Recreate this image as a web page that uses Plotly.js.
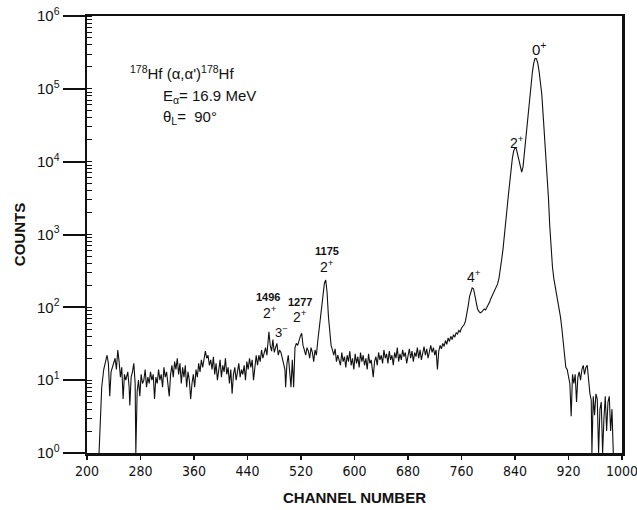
<!DOCTYPE html>
<html>
<head>
<meta charset="utf-8">
<script src="https://cdn.plot.ly/plotly-3.0.1.min.js"></script>
<style>html,body{margin:0;padding:0;background:#fff;}#chart{width:637px;height:510px;}</style>
</head>
<body>
<div id="chart"></div>
<script>
// Channel numbers (x) and counts (y)
const channel = [
218,220,222,225,228,230,232,234,236,239,242,244,246,248,250,252,254,256,258,261,263,264,266,268,270,272,273,275,277,279,
281,283,285,287,289,291,293,295,297,299,301,303,305,307,309,311,313,315,317,319,321,323,325,327,329,331,333,335,337,339,
341,343,345,347,349,351,353,355,357,359,361,363,365,367,369,371,373,375,377,379,381,383,385,387,389,391,393,395,397,399,
401,403,405,407,409,411,413,415,417,419,421,423,425,427,429,431,433,435,437,439,441,443,445,447,449,451,453,455,457,459,
461,463,465,467,469,471,472,474,476,478,480,482,484,486,488,490,492,494,496,497,499,501,503,505,507,509,511,513,515,517,
519,521,523,525,527,529,531,533,535,537,539,541,543,545,547,549,551,553,555,557,559,561,563,565,567,569,571,573,575,577,
579,581,583,585,587,589,591,593,595,597,599,601,603,605,607,609,611,613,615,617,619,621,623,625,627,628,630,632,634,636,
638,640,642,644,646,648,650,652,654,656,658,660,662,664,666,668,670,672,674,676,678,680,682,684,686,688,690,692,694,696,
698,700,702,704,706,708,710,712,714,716,718,720,722,724,726,728,730,732,734,736,738,740,742,744,746,748,750,752,754,756,
758,760,762,764,766,768,770,772,774,776,778,780,782,784,786,788,790,792,794,796,798,800,802,804,806,808,810,812,814,816,
818,820,822,824,826,828,830,832,834,836,838,840,842,844,846,848,850,852,854,856,858,860,862,864,866,868,870,872,874,876,
878,880,882,884,886,888,890,892,894,896,898,900,902,904,906,908,910,912,914,916,918,920,922,924,926,928,930,932,934,936,
938,940,942,944,946,948,950,952,954,955,957,959,961,963,965,967,969,971,973,975,977,979,981,983,985,987
];
const counts = [
1,3,8,14,18,22,17,6,13,16,20,14,26,18,11,15,5.5,12,10,13,8,4.5,11,13,17,9,1,7,10,6,
12,9,10,14,8,11,9,13,10,12,5.5,11,9,14,10,12,8,15,11,13,9,6,12,16,11,18,14,20,12,17,
9,15,11,16,8,13,10,5.5,9,12,8,14,11,17,13,19,15,21,25,20,22,16,19,14,21,12,17,10,15,19,
11,16,13,20,12,15,9,14,6.5,12,15,10,13,17,11,14,12,16,10,18,14,20,15,19,10,17,22,16,22,18,
26,20,24,28,22,40,46,30,25,36,24,28,32,22,26,24,20,18,14,8,17,22,14,8,19,8,28,32,30,36,
40,44,30,26,22,28,25,20,28,24,18,26,22,34,50,75,115,170,215,237,160,75,42,30,26,22,27,18,22,19,
16,24,18,21,15,22,18,25,16,20,14,23,17,21,15,24,18,22,16,20,14,23,17,19,13,11,18,21,16,24,
19,22,17,26,20,23,17,25,19,22,16,24,20,28,18,23,19,26,21,24,17,22,27,20,25,18,24,21,28,20,
26,19,24,29,22,27,20,25,30,24,28,22,26,14,25,30,27,32,29,35,31,38,34,40,36,42,39,45,43,48,
46,52,55,58,65,80,105,140,170,185,180,150,115,95,88,84,86,90,95,92,100,105,118,132,145,160,178,195,210,250,
320,450,620,900,1400,2200,3400,5200,8000,11000,14000,15500,15000,12500,9500,7800,7200,8500,13000,22000,36000,55000,80000,120000,170000,225000,262000,260000,225000,175000,
130000,85000,45000,24000,13000,7000,3200,1300,560,360,250,200,155,120,95,74,52,36,24,15,14,11,9,3.2,12,9,12,5,11,13,
10,14,16,12,15,16,10,6.6,5.3,1,6,3.3,6.5,5.5,1,4,5,1,3,6,2,5,6,2,4,1
];
const yTickVals = [1,10,100,1000,10000,100000,1000000];
const yTickText = ['10<sup>0</sup>','10<sup>1</sup>','10<sup>2</sup>','10<sup>3</sup>','10<sup>4</sup>','10<sup>5</sup>','10<sup>6</sup>'];
const xTickVals = [200,280,360,440,520,600,680,760,840,920,1000];

const trace = {
  x: channel, y: counts, type: 'scatter', mode: 'lines',
  line: {color: '#111', width: 1.1},
  hoverinfo: 'skip', cliponaxis: true
};

const F = 'Liberation Sans, Arial, Helvetica, sans-serif';
function ann(text, x, y, size, xanchor, bold) {
  return {text: bold ? '<b>' + text + '</b>' : text, x: x, y: y, xref: 'paper', yref: 'paper',
    xanchor: xanchor || 'center', yanchor: 'middle', showarrow: false,
    font: {family: F, size: size, color: '#111'}};
}

const layout = {
  width: 637, height: 510,
  margin: {l: 87, r: 15, t: 16, b: 57},
  paper_bgcolor: '#fff', plot_bgcolor: '#fff',
  showlegend: false,
  font: {family: F, color: '#111'},
  xaxis: {
    range: [200, 1000], tickvals: xTickVals, ticks: 'outside', ticklen: 4, tickwidth: 1.5, tickcolor: '#111',
    ticklabeloverflow: 'allow',
    showline: true, linewidth: 2.5, linecolor: '#111', mirror: true, showgrid: false, zeroline: false,
    tickfont: {family: 'Liberation Sans Narrow, DejaVu Sans Condensed, Arial Narrow, sans-serif', size: 14, color: '#111'},
    title: {text: '<b>CHANNEL NUMBER</b>', font: {family: F, size: 15, color: '#111'}, standoff: 14}
  },
  yaxis: {
    type: 'log', range: [0, 6], tickvals: yTickVals, ticktext: yTickText,
    ticks: 'outside', ticklen: 22, tickwidth: 2, tickcolor: '#111',
    minor: {ticks: 'inside', ticklen: 5, tickwidth: 1, tickcolor: '#111', dtick: 'D1', showgrid: false},
    showline: true, linewidth: 2.5, linecolor: '#111', mirror: true, showgrid: false, zeroline: false,
    tickfont: {family: F, size: 15, color: '#111'},
    title: {text: '<b>COUNTS</b>', font: {family: F, size: 15, color: '#111'}, standoff: 8}
  },
  annotations: [
    ann('<sup>178</sup>Hf (α,α\')<sup>178</sup>Hf', 0.076, 0.870, 15, 'left'),
    ann('E<sub>α</sub>= 16.9 MeV', 0.139, 0.815, 15, 'left'),
    ann('θ<sub>L</sub>=  90°', 0.139, 0.767, 15, 'left'),
    ann('0<sup>+</sup>', 0.844, 0.925, 15),
    ann('2<sup>+</sup>', 0.804, 0.712, 14),
    ann('1175', 0.448, 0.462, 11, 'center', true),
    ann('2<sup>+</sup>', 0.448, 0.428, 14),
    ann('4<sup>+</sup>', 0.724, 0.405, 14),
    ann('1496', 0.339, 0.357, 11, 'center', true),
    ann('2<sup>+</sup>', 0.342, 0.323, 14),
    ann('1277', 0.398, 0.346, 11, 'center', true),
    ann('2<sup>+</sup>', 0.398, 0.313, 14),
    ann('3<sup>−</sup>', 0.363, 0.277, 13)
  ]
};

Plotly.newPlot('chart', [trace], layout, {staticPlot: true, displayModeBar: false});
</script>
</body>
</html>
